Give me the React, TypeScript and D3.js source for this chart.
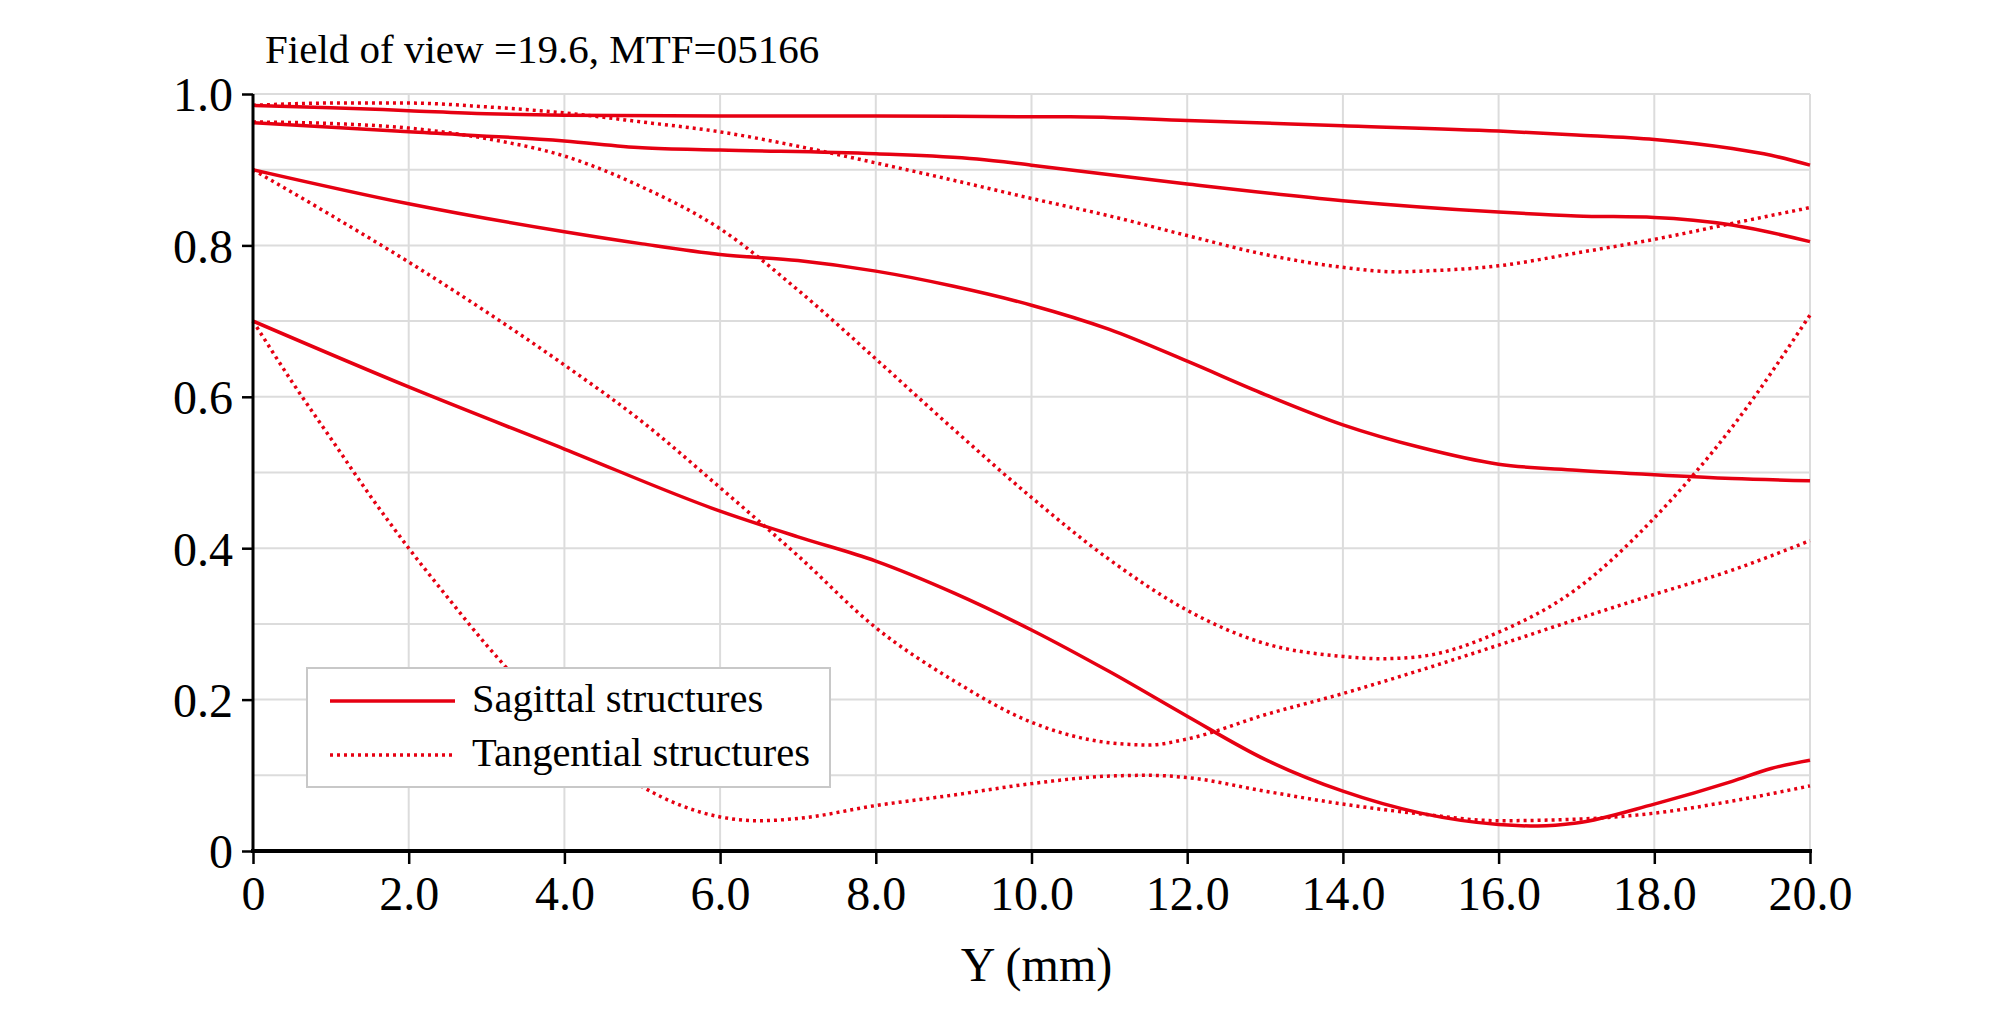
import { useRef, useEffect } from 'react';
import * as d3 from 'd3';

const WIDTH = 1993;
const HEIGHT = 1024;
const PLOT = { left: 253, right: 1810, top: 94, bottom: 851 };
const RED = '#e60012';
const FONT = '"Liberation Serif", "Times New Roman", serif';

const TITLE = 'Field of view =19.6, MTF=05166';
const X_LABEL = 'Y (mm)';
const LEGEND_LABELS = ['Sagittal structures', 'Tangential structures'];

const X_TICKS = [0, 2, 4, 6, 8, 10, 12, 14, 16, 18, 20];
const Y_TICKS = [0, 0.2, 0.4, 0.6, 0.8, 1.0];
const Y_GRID = [0, 0.1, 0.2, 0.3, 0.4, 0.5, 0.6, 0.7, 0.8, 0.9, 1.0];

type Pt = [number, number];

// Sagittal (solid) curves
const sag1: Pt[] = [
  [0, 0.985], [1, 0.982], [2, 0.978], [3, 0.974], [4, 0.972], [6, 0.971], [8, 0.971],
  [10, 0.970], [10.5, 0.970], [12, 0.965], [14, 0.958], [16, 0.951], [17, 0.946],
  [18, 0.94], [19, 0.928], [19.5, 0.919], [20, 0.906],
];
const sag2: Pt[] = [
  [0, 0.962], [2, 0.95], [4, 0.938], [5, 0.929], [6, 0.926], [8, 0.921], [9.3, 0.914],
  [10, 0.906], [12, 0.881], [14, 0.859], [16, 0.844], [17, 0.839], [18, 0.837],
  [19, 0.827], [20, 0.805],
];
const sag3: Pt[] = [
  [0, 0.9], [2, 0.855], [4, 0.818], [5, 0.802], [6, 0.788], [7, 0.78], [8, 0.766],
  [9, 0.746], [10, 0.721], [11, 0.689], [12, 0.647], [13, 0.603], [14, 0.563],
  [15, 0.533], [16, 0.511], [17, 0.503], [18, 0.497], [19, 0.492], [20, 0.489],
];
const sag4: Pt[] = [
  [0, 0.7], [2, 0.613], [4, 0.531], [6, 0.449], [7, 0.415], [8, 0.383], [9, 0.341],
  [10, 0.292], [11, 0.237], [12, 0.178], [13, 0.121], [14, 0.079], [15, 0.05],
  [16, 0.035], [16.5, 0.033], [17, 0.037], [18, 0.062], [19, 0.092], [19.5, 0.109],
  [20, 0.12],
];

// Tangential (dotted) curves
const tan1: Pt[] = [
  [0, 0.985], [1, 0.988], [2, 0.988], [3, 0.983], [4, 0.975], [5, 0.963], [6, 0.95],
  [7, 0.931], [8, 0.909], [9, 0.886], [10, 0.862], [11, 0.839], [12, 0.813],
  [13, 0.788], [14, 0.771], [14.7, 0.765], [15, 0.766], [16, 0.773], [17, 0.79],
  [18, 0.808], [19, 0.829], [20, 0.85],
];
const tan2: Pt[] = [
  [0, 0.963], [1, 0.961], [2, 0.955], [3, 0.941], [4, 0.918], [5, 0.877], [6, 0.822],
  [7, 0.741], [8, 0.65], [9, 0.557], [10, 0.467], [11, 0.385], [12, 0.318],
  [13, 0.274], [14, 0.257], [14.5, 0.254], [15, 0.257], [16, 0.289], [17, 0.346],
  [18, 0.44], [19, 0.56], [20, 0.708],
];
const tan3: Pt[] = [
  [0, 0.9], [1, 0.84], [2, 0.778], [3, 0.712], [4, 0.642], [5, 0.567], [6, 0.48],
  [7, 0.39], [8, 0.295], [9, 0.225], [10, 0.17], [11, 0.143], [11.5, 0.14],
  [12, 0.148], [13, 0.18], [14, 0.208], [15, 0.239], [16, 0.272], [17, 0.306],
  [18, 0.339], [19, 0.371], [20, 0.41],
];
const tan4: Pt[] = [
  [0, 0.7], [0.5, 0.62], [1, 0.545], [1.5, 0.47], [2, 0.4], [2.5, 0.335], [3, 0.272],
  [3.5, 0.215], [4, 0.165], [4.5, 0.12], [5, 0.085], [5.5, 0.06], [6, 0.045],
  [6.5, 0.04], [7, 0.043], [8, 0.06], [9, 0.074], [10, 0.089], [11, 0.099],
  [11.5, 0.1], [12, 0.097], [13, 0.079], [14, 0.062], [15, 0.049], [16, 0.04],
  [17, 0.042], [18, 0.05], [19, 0.066], [20, 0.086],
];

const SAGITTAL = [sag1, sag2, sag3, sag4];
const TANGENTIAL = [tan1, tan2, tan3, tan4];

const fmtTick = (d: number) => (d === 0 ? '0' : d.toFixed(1));

export default function App() {
  const svgRef = useRef<SVGSVGElement>(null);

  useEffect(() => {
    if (!svgRef.current) return;
    const svg = d3.select(svgRef.current);
    svg.selectAll('*').remove();

    const x = d3.scaleLinear().domain([0, 20]).range([PLOT.left, PLOT.right]);
    const y = d3.scaleLinear().domain([0, 1]).range([PLOT.bottom, PLOT.top]);

    svg.append('rect').attr('width', WIDTH).attr('height', HEIGHT).attr('fill', '#fff');

    // ── Grid ────────────────────────────────────────────────────────────────
    const grid = svg.append('g').attr('stroke', '#dcdcdc').attr('stroke-width', 2);
    grid.selectAll('line.v')
      .data(X_TICKS)
      .join('line')
      .attr('class', 'v')
      .attr('x1', (d) => x(d))
      .attr('x2', (d) => x(d))
      .attr('y1', y(0))
      .attr('y2', y(1));
    grid.selectAll('line.h')
      .data(Y_GRID)
      .join('line')
      .attr('class', 'h')
      .attr('x1', x(0))
      .attr('x2', x(20))
      .attr('y1', (d) => y(d))
      .attr('y2', (d) => y(d));

    // ── Curves ──────────────────────────────────────────────────────────────
    const line = d3
      .line<Pt>()
      .x((d) => x(d[0]))
      .y((d) => y(d[1]))
      .curve(d3.curveMonotoneX);

    svg.append('g')
      .selectAll('path')
      .data(SAGITTAL)
      .join('path')
      .attr('fill', 'none')
      .attr('stroke', RED)
      .attr('stroke-width', 3.5)
      .attr('d', line);

    svg.append('g')
      .selectAll('path')
      .data(TANGENTIAL)
      .join('path')
      .attr('fill', 'none')
      .attr('stroke', RED)
      .attr('stroke-width', 3.5)
      .attr('stroke-dasharray', '3,4')
      .attr('d', line);

    // ── Axes ────────────────────────────────────────────────────────────────
    const xAxis = svg
      .append('g')
      .attr('transform', `translate(0,${PLOT.bottom})`)
      .call(
        d3.axisBottom(x).tickValues(X_TICKS).tickSize(13).tickPadding(12)
          .tickFormat((d) => fmtTick(d as number)),
      );
    xAxis.select('.domain').attr('stroke', '#000').attr('stroke-width', 4).attr('d', `M${PLOT.left - 2},0H${PLOT.right + 2}`);
    xAxis.selectAll('.tick line').attr('stroke', '#000').attr('stroke-width', 2.5);
    xAxis.selectAll('text')
      .attr('font-family', FONT)
      .attr('font-size', 48)
      .attr('fill', '#000');

    const yAxis = svg
      .append('g')
      .attr('transform', `translate(${PLOT.left},0)`)
      .call(
        d3.axisLeft(y).tickValues(Y_TICKS).tickSize(11).tickPadding(9)
          .tickFormat((d) => fmtTick(d as number)),
      );
    yAxis.select('.domain').attr('stroke', '#000').attr('stroke-width', 3).attr('d', `M0,${PLOT.top}V${PLOT.bottom}`);
    yAxis.selectAll('.tick line').attr('stroke', '#000').attr('stroke-width', 2.5);
    yAxis.selectAll('text')
      .attr('font-family', FONT)
      .attr('font-size', 48)
      .attr('dy', '0.35em')
      .attr('fill', '#000');

    // ── Title & axis label ─────────────────────────────────────────────────
    svg.append('text')
      .attr('x', 265)
      .attr('y', 63)
      .attr('font-family', FONT)
      .attr('font-size', 41)
      .text(TITLE);

    svg.append('text')
      .attr('x', (PLOT.left + PLOT.right) / 2 + 5)
      .attr('y', 981)
      .attr('text-anchor', 'middle')
      .attr('font-family', FONT)
      .attr('font-size', 48)
      .text(X_LABEL);

    // ── Legend ──────────────────────────────────────────────────────────────
    const lg = svg.append('g');
    lg.append('rect')
      .attr('x', 307)
      .attr('y', 668)
      .attr('width', 523)
      .attr('height', 119)
      .attr('fill', '#fff')
      .attr('stroke', '#c8c8c8')
      .attr('stroke-width', 2);

    const rows = lg
      .selectAll('g.row')
      .data(LEGEND_LABELS)
      .join('g')
      .attr('class', 'row')
      .attr('transform', (_, i) => `translate(0,${i * 54})`);
    rows.append('line')
      .attr('x1', 330)
      .attr('x2', 455)
      .attr('y1', 701)
      .attr('y2', 701)
      .attr('stroke', RED)
      .attr('stroke-width', 3.5)
      .attr('stroke-dasharray', (_, i) => (i === 1 ? '3,4' : null));
    rows.append('text')
      .attr('x', 472)
      .attr('y', 712)
      .attr('font-family', FONT)
      .attr('font-size', 40.5)
      .text((d) => d);
  }, []);

  return (
    <div style={{ position: 'absolute', left: 0, top: 0 }}>
      <svg ref={svgRef} width={WIDTH} height={HEIGHT} />
    </div>
  );
}
